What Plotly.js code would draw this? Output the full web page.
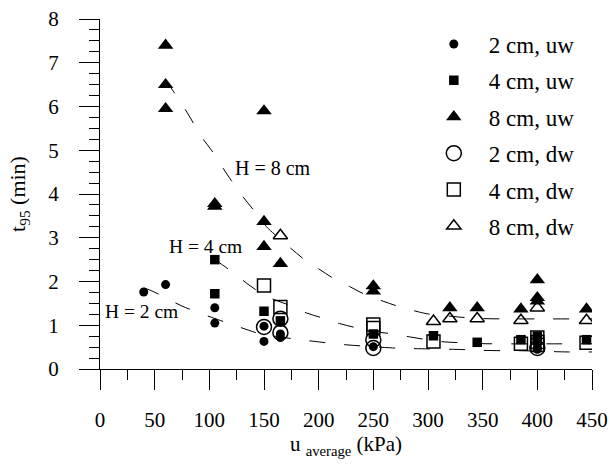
<!DOCTYPE html>
<html><head><meta charset="utf-8">
<script src="https://cdn.plot.ly/plotly-3.0.1.min.js"></script>
<style>html,body{margin:0;padding:0;background:#fff}#chart{width:611px;height:466px}</style>
</head><body><div id="chart"></div>
<script>
// measured points: u_average (kPa) and t95 (min)
const u2uw = [40,60,105,105,150,150,165,165,250,400,400];
const t2uw = [1.76,1.93,1.40,1.05,0.98,0.63,0.80,0.72,0.51,0.50,0.45];
const u4uw = [105,105,150,165,250,305,345,385,400,400,445];
const t4uw = [2.50,1.72,1.32,1.10,0.80,0.76,0.61,0.67,0.75,0.65,0.67];
const u8uw = [60,60,60,105,105,150,150,150,165,250,250,320,345,385,400,400,400,445];
const t8uw = [7.40,6.50,5.95,3.78,3.72,5.90,3.37,2.80,2.41,1.90,1.78,1.40,1.40,1.37,2.04,1.63,1.55,1.37];
const u2dw = [150,165,165,250,250,400];
const t2dw = [0.96,1.15,0.83,0.67,0.48,0.48];
const u4dw = [150,165,250,250,305,385,400,400,400,445];
const t4dw = [1.91,1.42,1.02,0.94,0.63,0.58,0.72,0.62,0.55,0.60];
const u8dw = [165,305,320,345,385,400,445];
const t8dw = [3.05,1.09,1.15,1.15,1.11,1.40,1.11];

// dashed trend curves
const uCurve8 = [60,67,80,93,102,111,120,130,139,152,160,174,186,200,213,228,241,259,273,289,302,323,337,354,369,400,450];
const tCurve8 = [6.6,6.35,5.85,5.3,5.0,4.65,4.31,3.96,3.68,3.26,3.07,2.77,2.52,2.29,2.08,1.89,1.72,1.55,1.43,1.32,1.25,1.20,1.17,1.15,1.146,1.145,1.145];
const uCurve4 = [105,117,130,142,158,172,189,203,219,235,250,265,283,299,315,331,349,364,400,450];
const tCurve4 = [2.5,2.29,2.04,1.82,1.6,1.47,1.28,1.17,1.04,0.94,0.86,0.81,0.735,0.67,0.62,0.6,0.58,0.575,0.575,0.575];
const uCurve2 = [40,45,58.5,74,88,110,119.5,136,146,171,183,200,215,232,244,265,280,331,345,363,380,428,450];
const tCurve2 = [1.85,1.81,1.65,1.45,1.31,1.11,1.03,0.886,0.81,0.71,0.67,0.62,0.575,0.54,0.52,0.485,0.47,0.445,0.43,0.42,0.42,0.39,0.39];

const seriesNames = ['2 cm, uw','4 cm, uw','8 cm, uw','2 cm, dw','4 cm, dw','8 cm, dw'];
const curveLabels = ['H = 8 cm','H = 4 cm','H = 2 cm'];

const FONT = 'Liberation Serif';
const dashStyle = {color:'#000', width:1, dash:'16px,19px', shape:'spline', smoothing:1};

function curve(u,t){
  return {x:u, y:t, mode:'lines', line:dashStyle, showlegend:false, hoverinfo:'skip'};
}
function pts(u,t,name,symbol,size,lw,g){
  return {x:u, y:t, mode:'markers', name:name, legendgroup:g,
    marker:{symbol:symbol, size:size, color:'#000', line:{color:'#000', width:lw}}};
}

const data = [
  curve(uCurve8,tCurve8), curve(uCurve4,tCurve4), curve(uCurve2,tCurve2),
  pts(u2uw,t2uw,seriesNames[0],'circle',9,0,'a'),
  pts(u4uw,t4uw,seriesNames[1],'square',9.5,0,'b'),
  pts(u8uw,t8uw,seriesNames[2],'triangle-up',13.5,0,'c'),
  pts(u2dw,t2dw,seriesNames[3],'circle-open',15,1.5,'d'),
  pts(u4dw,t4dw,seriesNames[4],'square-open',13,1.5,'e'),
  pts(u8dw,t8dw,seriesNames[5],'triangle-up-open',12.5,1.5,'f')
];

const layout = {
  width:611, height:466,
  margin:{l:100, r:19, t:19, b:96.5},
  paper_bgcolor:'#fff', plot_bgcolor:'#fff',
  font:{family:FONT, size:21, color:'#000'},
  showlegend:true,
  legend:{x:0.648, y:0.99, xanchor:'left', yanchor:'top', itemwidth:60,
    traceorder:'grouped', tracegroupgap:3.5, bgcolor:'rgba(0,0,0,0)',
    font:{family:FONT, size:23, color:'#000'}},
  xaxis:{range:[0,450], dtick:50, tick0:0, showgrid:false, zeroline:false,
    showline:true, linecolor:'#000', linewidth:1, ticks:'outside', ticklen:20, tickwidth:1, tickcolor:'#000',
    ticklabelstandoff:12,
    minor:{dtick:25, ticks:'outside', ticklen:10, tickwidth:1, tickcolor:'#000', showgrid:false},
    tickfont:{family:FONT, size:21, color:'#000'},
    title:{text:'u <sub>average</sub> (kPa)', font:{family:FONT, size:21, color:'#000'}, standoff:4}},
  yaxis:{range:[0,8], dtick:1, tick0:0, showgrid:false, zeroline:false,
    showline:true, linecolor:'#000', linewidth:1, ticks:'outside', ticklen:20, tickwidth:1, tickcolor:'#000',
    ticklabelstandoff:16,
    minor:{dtick:0.25, ticks:'outside', ticklen:10, tickwidth:1, tickcolor:'#000', showgrid:false},
    tickfont:{family:FONT, size:21, color:'#000'},
    title:{text:'t<sub>95</sub> (min)', font:{family:FONT, size:22, color:'#000'}, standoff:16}},
  annotations:[
    {x:122, y:4.6, text:curveLabels[0], showarrow:false, xanchor:'left', yanchor:'middle', font:{family:FONT, size:20, color:'#000'}},
    {x:61.6, y:2.8, text:curveLabels[1], showarrow:false, xanchor:'left', yanchor:'middle', font:{family:FONT, size:19.5, color:'#000'}},
    {x:3, y:1.32, text:curveLabels[2], showarrow:false, xanchor:'left', yanchor:'middle', font:{family:FONT, size:19.5, color:'#000'}}
  ]
};

Plotly.newPlot('chart', data, layout, {displayModeBar:false, staticPlot:true});
</script></body></html>
